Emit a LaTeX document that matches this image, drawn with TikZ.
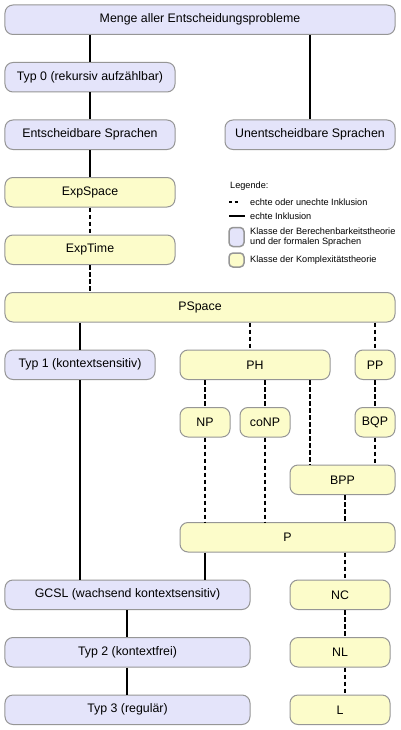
\documentclass[tikz,border=0pt]{standalone}
\usepackage{fontspec}
\setmainfont{Liberation Sans}
\begin{document}
\begin{tikzpicture}[x=1bp,y=-1bp,
  box/.style={draw={rgb,255:red,150;green,150;blue,150}, line width=1bp, rounded corners=8bp,
    inner sep=0pt, font=\fontsize{12.4}{14}\selectfont},
  blue/.style={box, fill={rgb,255:red,228;green,228;blue,250}},
  yel/.style={box, fill={rgb,255:red,252;green,252;blue,202}},
  solidline/.style={line width=2.6bp, black},
  thinline/.style={line width=2bp, black},
  dashline/.style={line width=2.6bp, black, dash pattern=on 4.5bp off 2.5bp},
  legtext/.style={anchor=west, inner sep=0pt, font=\fontsize{9.2}{9.5}\selectfont, align=left}
]
\useasboundingbox (0,0) rectangle (400,730);
\fill[white] (0,0) rectangle (400,730);

% boxes: center x, center y, width
\newcommand{\mybox}[6]{\node[#1, minimum width=#5bp, minimum height=29.5bp] (#2) at (#3,#4) {#6};}
\mybox{blue}{menge}{200}{19.75}{390}{Menge aller Entscheidungsprobleme}
\mybox{blue}{typ0}{90}{77.25}{170}{Typ 0 (rekursiv aufzählbar)}
\mybox{blue}{ent}{90}{134.75}{170}{Entscheidbare Sprachen}
\mybox{blue}{unent}{310}{134.75}{170}{Unentscheidbare Sprachen}
\mybox{yel}{expspace}{90}{192.25}{170}{ExpSpace}
\mybox{yel}{exptime}{90}{249.75}{170}{ExpTime}
\mybox{yel}{pspace}{200}{307.25}{390}{PSpace}
\mybox{blue}{typ1}{80}{364.75}{150}{Typ 1 (kontextsensitiv)}
\mybox{yel}{ph}{255}{364.75}{150}{PH}
\mybox{yel}{pp}{375}{364.75}{40}{PP}
\mybox{yel}{np}{205}{422.25}{50}{NP}
\mybox{yel}{conp}{265}{422.25}{50}{coNP}
\mybox{yel}{bqp}{375}{422.25}{40}{BQP}
\mybox{yel}{bpp}{342.5}{479.75}{105}{BPP}
\mybox{yel}{p}{287.5}{537.25}{215}{P}
\mybox{blue}{gcsl}{127.5}{594.75}{245}{GCSL (wachsend kontextsensitiv)}
\mybox{yel}{nc}{340}{594.75}{100}{NC}
\mybox{blue}{typ2}{127.5}{652.25}{245}{Typ 2 (kontextfrei)}
\mybox{yel}{nl}{340}{652.25}{100}{NL}
\mybox{blue}{typ3}{127.5}{709.75}{245}{Typ 3 (regulär)}
\mybox{yel}{l}{340}{709.75}{100}{L}

% x positions of connectors
\coordinate (x80) at (80,0);
\coordinate (x90) at (90,0);
\coordinate (x127) at (127,0);
\coordinate (x205) at (205,0);
\coordinate (x250) at (250,0);
\coordinate (x265) at (265,0);
\coordinate (x310) at (310,0);
\coordinate (x345) at (345,0);
\coordinate (x375) at (375,0);

\draw[solidline] (menge.south -| x90) -- (typ0.north -| x90);
\draw[solidline] (menge.south -| x310) -- (unent.north -| x310);
\draw[solidline] (typ0.south -| x90) -- (ent.north -| x90);
\draw[solidline] (ent.south -| x90) -- (expspace.north -| x90);
\draw[dashline] (expspace.south -| x90) -- (exptime.north -| x90);
\draw[dashline] (exptime.south -| x90) -- (pspace.north -| x90);
\draw[solidline] (pspace.south -| x80) -- (typ1.north -| x80);
\draw[dashline] (pspace.south -| x250) -- (ph.north -| x250);
\draw[dashline] (pspace.south -| x375) -- (pp.north -| x375);
\draw[solidline] (typ1.south -| x80) -- (gcsl.north -| x80);
\draw[dashline] (ph.south -| x205) -- (np.north -| x205);
\draw[dashline] (ph.south -| x265) -- (conp.north -| x265);
\draw[dashline] (ph.south -| x310) -- (bpp.north -| x310);
\draw[dashline] (pp.south -| x375) -- (bqp.north -| x375);
\draw[dashline] (bqp.south -| x375) -- (bpp.north -| x375);
\draw[dashline] (np.south -| x205) -- (p.north -| x205);
\draw[dashline] (conp.south -| x265) -- (p.north -| x265);
\draw[dashline] (bpp.south -| x345) -- (p.north -| x345);
\draw[solidline] (p.south -| x205) -- (gcsl.north -| x205);
\draw[dashline] (p.south -| x345) -- (nc.north -| x345);
\draw[thinline] (gcsl.south -| x127) -- (typ2.north -| x127);
\draw[thinline] (typ2.south -| x127) -- (typ3.north -| x127);
\draw[dashline] (nc.south -| x345) -- (nl.north -| x345);
\draw[dashline] (nl.south -| x345) -- (l.north -| x345);

% legend
\node[legtext] (legtitle) at (230,186) {Legende:};
\coordinate (ld1) at (229,202);
\coordinate (ld2) at (237.5,202);
\draw[line width=2.5bp, dash pattern=on 3bp off 2.5bp] (ld1) -- (ld2);
\node[legtext] (legdash) at (250,202) {echte oder unechte Inklusion};
\coordinate (ls1) at (229,216);
\coordinate (ls2) at (245,216);
\draw[line width=2.5bp] (ls1) -- (ls2);
\node[legtext] (legsolid) at (250,216) {echte Inklusion};
\node[draw={rgb,255:red,150;green,150;blue,150}, line width=1.5bp, rounded corners=4bp,
  fill={rgb,255:red,228;green,228;blue,250}, minimum width=15bp, minimum height=19bp, inner sep=0pt] (legblue) at (236.5,237) {};
\node[legtext] (legbluetext) at (250,237) {Klasse der Berechenbarkeitstheorie\\und der formalen Sprachen};
\node[draw={rgb,255:red,150;green,150;blue,150}, line width=1.5bp, rounded corners=4bp,
  fill={rgb,255:red,252;green,252;blue,202}, minimum width=15bp, minimum height=14bp, inner sep=0pt] (legyel) at (236.5,260) {};
\node[legtext] (legyeltext) at (250,260) {Klasse der Komplexitätstheorie};
\end{tikzpicture}
\end{document}
